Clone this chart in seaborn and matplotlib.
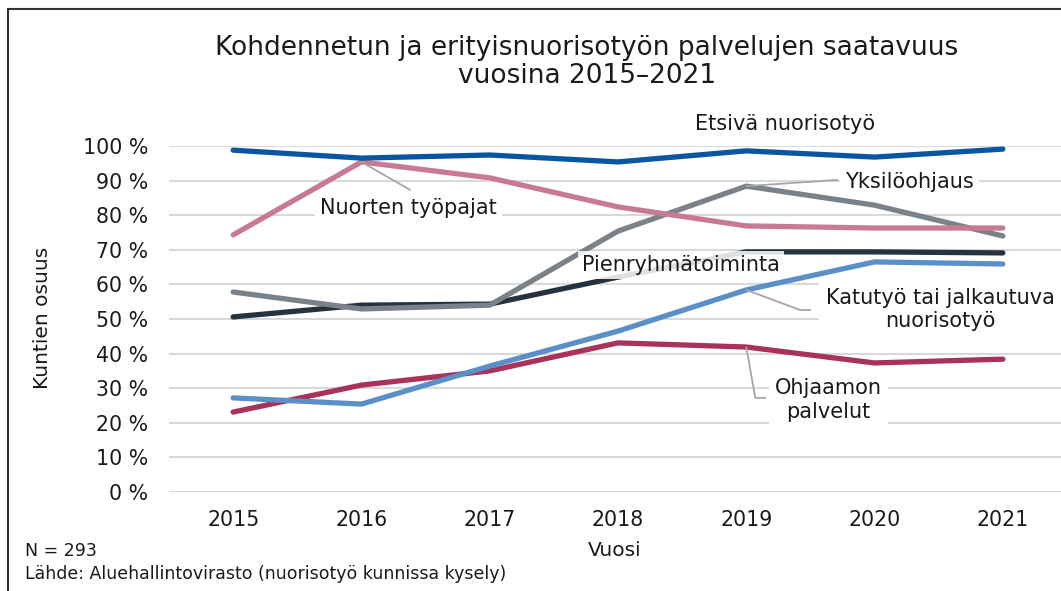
import numpy as np
import pandas as pd
import matplotlib
matplotlib.use("Agg")
import matplotlib.pyplot as plt
import seaborn as sns
from matplotlib.patches import Rectangle

# %% data
years = [2015, 2016, 2017, 2018, 2019, 2020, 2021]
etsiva = [98.8, 96.5, 97.4, 95.4, 98.6, 96.8, 99.1]
tyopajat = [74.3, 95.4, 90.8, 82.4, 76.9, 76.3, 76.3]
yksilo = [57.8, 52.9, 54.0, 75.4, 88.4, 82.9, 74.0]
pienryhma = [50.6, 54.0, 54.3, 62.1, 69.4, 69.4, 69.1]
katutyo = [27.2, 25.4, 36.4, 46.5, 58.4, 66.5, 65.9]
ohjaamo = [23.1, 30.9, 35.0, 43.1, 41.9, 37.3, 38.4]

series = {
    "Etsivä nuorisotyö": etsiva,
    "Nuorten työpajat": tyopajat,
    "Yksilöohjaus": yksilo,
    "Pienryhmätoiminta": pienryhma,
    "Katutyö tai jalkautuva nuorisotyö": katutyo,
    "Ohjaamon palvelut": ohjaamo,
}
colors = {
    "Etsivä nuorisotyö": "#0b56a1",
    "Nuorten työpajat": "#c97a93",
    "Yksilöohjaus": "#7a8188",
    "Pienryhmätoiminta": "#27323f",
    "Katutyö tai jalkautuva nuorisotyö": "#5b8fc8",
    "Ohjaamon palvelut": "#a8325a",
}

df = pd.DataFrame([(s, y, v) for s, vals in series.items() for y, v in zip(years, vals)],
                  columns=["sarja", "vuosi", "osuus"])

# %% plot
sns.set_style("white")
plt.rcParams["font.family"] = ["DejaVu Sans"]
txt = "#1a1a1a"
fs = 15

fig = plt.figure(figsize=(10.61, 5.91), dpi=100)
ax = fig.add_axes([169 / 1061, 1 - 492 / 591, 898 / 1061, 346 / 591])

sns.lineplot(data=df, x="vuosi", y="osuus", hue="sarja", palette=colors,
             hue_order=list(series.keys())[::-1], linewidth=3.8, legend=False,
             ax=ax, solid_capstyle="round", zorder=3)

ax.set_xlim(2014.5, 2021.5)
ax.set_ylim(0, 100)
ax.set_xticks(years)
ax.set_xticklabels([str(y) for y in years])
ax.set_yticks(range(0, 101, 10))
ax.set_yticklabels([f"{v} %" for v in range(0, 101, 10)])
ax.tick_params(axis="both", length=0, labelsize=14.8, colors=txt)
ax.tick_params(axis="y", pad=15)
ax.tick_params(axis="x", pad=13)
ax.grid(axis="y", color="#d9d9d9", linewidth=1.5, zorder=0)
ax.set_axisbelow(True)
for s in ax.spines.values():
    s.set_visible(False)
ax.set_xlabel("")
ax.set_ylabel("")

box = dict(boxstyle="square,pad=0.25", facecolor="white", edgecolor="none")
lead = dict(color="#a6a6a6", linewidth=1.3, zorder=4)

ax.text(2019.30, 106.4, "Etsivä nuorisotyö", ha="center", va="center",
        fontsize=fs, color=txt, clip_on=False)

ax.plot([2016, 2016.38], [95.4, 87.3], **lead)
ax.text(2015.68, 82.1, "Nuorten työpajat", ha="left", va="center",
        fontsize=fs, color=txt, bbox=box, zorder=5)

ax.plot([2019, 2019.71], [88.4, 90.2], **lead)
ax.text(2019.77, 89.6, "Yksilöohjaus", ha="left", va="center",
        fontsize=fs, color=txt, bbox=box, zorder=5)

ax.text(2017.72, 65.6, "Pienryhmätoiminta", ha="left", va="center", fontsize=fs,
        color=txt, zorder=5,
        bbox=dict(boxstyle="square,pad=0.2", facecolor="white", edgecolor="none", alpha=0.85))

ax.plot([2019, 2019.42, 2019.5], [58.4, 52.6, 52.6], **lead)
ax.text(2020.51, 52.7, "Katutyö tai jalkautuva\nnuorisotyö", ha="center", va="center",
        multialignment="center", fontsize=fs, color=txt, linespacing=1.2,
        bbox=dict(boxstyle="square,pad=0.3", facecolor="white", edgecolor="none"),
        zorder=5, clip_on=False)

ax.plot([2019, 2019.07, 2019.15], [41.9, 27.2, 27.2], **lead)
ax.text(2019.64, 26.6, "Ohjaamon\npalvelut", ha="center", va="center",
        multialignment="center", fontsize=fs, color=txt, linespacing=1.2,
        bbox=dict(boxstyle="square,pad=0.3", facecolor="white", edgecolor="none"),
        zorder=5)

# titles and labels in figure coords
fig.text(587 / 1061, 1 - 62 / 591, "Kohdennetun ja erityisnuorisotyön palvelujen saatavuus\nvuosina 2015–2021",
         ha="center", va="center", fontsize=19, color=txt, linespacing=1.1)
fig.text(42 / 1061, 1 - 318 / 591, "Kuntien osuus", rotation=90, ha="center", va="center",
         fontsize=14.5, color=txt)
fig.text(615 / 1061, 1 - 551 / 591, "Vuosi", ha="center", va="center", fontsize=14.5, color=txt)
fig.text(25 / 1061, 1 - 551 / 591, "N = 293", ha="left", va="center", fontsize=12.5, color=txt)
fig.text(25 / 1061, 1 - 574 / 591, "Lähde: Aluehallintovirasto (nuorisotyö kunnissa kysely)",
         ha="left", va="center", fontsize=12.5, color=txt)

# outer frame (only left and top edges visible in the crop)
fig.patches.append(Rectangle((8 / 1061, -0.5), 2, 1.5 - 9 / 591, transform=fig.transFigure,
                             fill=False, edgecolor="#333333", linewidth=1.5))

fig.savefig("out.png", dpi=100)
